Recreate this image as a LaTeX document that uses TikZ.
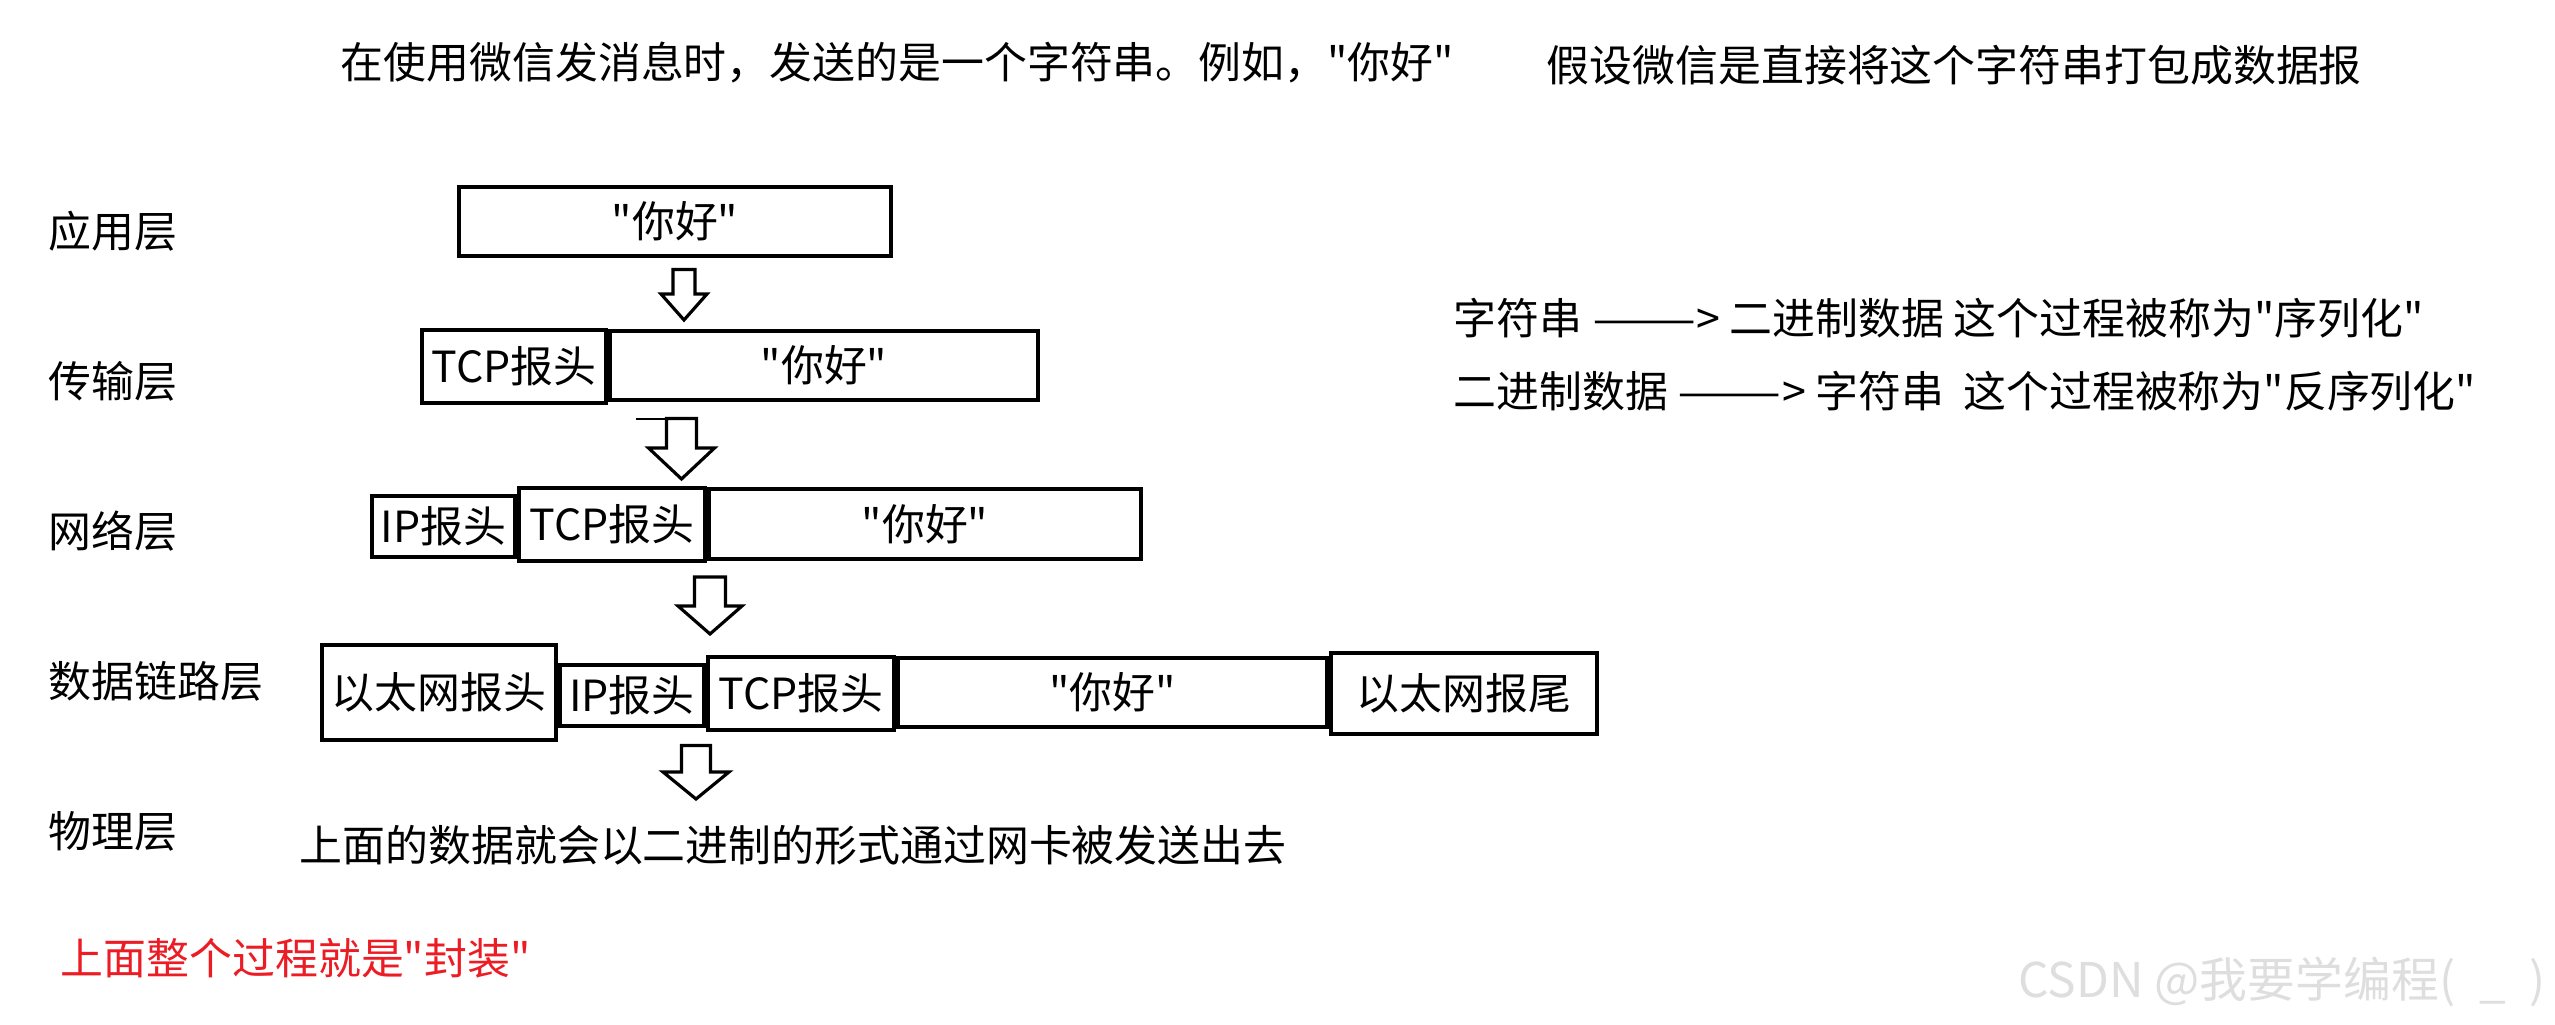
\documentclass[tikz,border=0pt]{standalone}
\usepackage{fontspec}
\setmainfont{Noto Sans CJK SC}[Ligatures=TeXOff]
\definecolor{sealred}{RGB}{236,28,36}
\definecolor{markgray}{RGB}{222,222,222}
\newcommand\longdash{\scalebox{1.45}[1]{——}}
\begin{document}
\begin{tikzpicture}[x=0.01cm, y=-0.01cm, font=\fontsize{12.2pt}{14pt}\selectfont,
    layer/.style={anchor=west, inner sep=0pt},
    note/.style={anchor=west, inner sep=0pt},
    pkt/.style={draw, line width=1.05pt, inner sep=0pt},
    blockarrow/.style={draw, line width=0.9pt, line join=miter}]
  \useasboundingbox (0,0) rectangle (2555,1025);
  % titles
  \node[note] (title) at (340, 63) {在使用微信发消息时，发送的是一个字符串。例如，"你好"};
  \node[note] (assume) at (1546, 65) {假设微信是直接将这个字符串打包成数据报};
  % layers
  \node[layer] (app) at (48, 231) {应用层};
  \node[layer] (trans) at (48, 381) {传输层};
  \node[layer] (net) at (48, 531) {网络层};
  \node[layer] (link) at (48, 681) {数据链路层};
  \node[layer] (phys) at (48, 831) {物理层};
  % packets
  \node[pkt, minimum width=4.32cm, minimum height=0.69cm] (appdata) at (675, 221.5) {"你好"};
  \node[pkt, minimum width=1.84cm, minimum height=0.73cm] (tcpa) at (514, 366.5) {TCP报头};
  \node[pkt, minimum width=4.28cm, minimum height=0.69cm] (dataa) at (824, 365.5) {"你好"};
  \node[pkt, minimum width=1.43cm, minimum height=0.61cm] (ipb) at (443.5, 526.5) {IP报头};
  \node[pkt, minimum width=1.86cm, minimum height=0.73cm] (tcpb) at (612, 524.5) {TCP报头};
  \node[pkt, minimum width=4.32cm, minimum height=0.70cm] (datab) at (925, 524) {"你好"};
  \node[pkt, minimum width=2.34cm, minimum height=0.95cm] (ethhead) at (439, 692.5) {以太网报头};
  \node[pkt, minimum width=1.44cm, minimum height=0.61cm] (ipc) at (632, 695.5) {IP报头};
  \node[pkt, minimum width=1.86cm, minimum height=0.73cm] (tcpc) at (801, 693.5) {TCP报头};
  \node[pkt, minimum width=4.29cm, minimum height=0.69cm] (datac) at (1112.5, 692.5) {"你好"};
  \node[pkt, minimum width=2.66cm, minimum height=0.81cm] (ethtail) at (1464, 693.5) {以太网报尾};
  % down arrows
  \foreach \cx/\ytop/\yneck/\ytip/\sw/\hw in {684/269.5/294/320/11/23,
      681.5/418.5/448/479/15/33, 710/577/606/634/15.5/32, 696/745.5/772/799/14.5/33}
    \draw[blockarrow] (\cx-\sw,\ytop) -- (\cx+\sw,\ytop) -- (\cx+\sw,\yneck)
      -- (\cx+\hw,\yneck) -- (\cx,\ytip) -- (\cx-\hw,\yneck) -- (\cx-\sw,\yneck) -- cycle;
  \draw[line width=0.3pt] (636,419) -- (666,419);
  % notes
  \node[note] (ser) at (1453, 318) {字符串 \longdash> 二进制数据 这个过程被称为"序列化"};
  \node[note] (deser) at (1453, 391) {二进制数据 \longdash> 字符串 \ 这个过程被称为"反序列化"};
  \node[note] (wire) at (299, 845) {上面的数据就会以二进制的形式通过网卡被发送出去};
  \node[note, text=sealred] (seal) at (60, 958) {上面整个过程就是"封装"};
  \node[note, text=markgray, font=\fontsize{13.6pt}{15pt}\selectfont] (mark) at (2018, 982)
    {CSDN @我要学编程(\hspace{0.5em}\_\hspace{0.5em})};
\end{tikzpicture}
\end{document}
